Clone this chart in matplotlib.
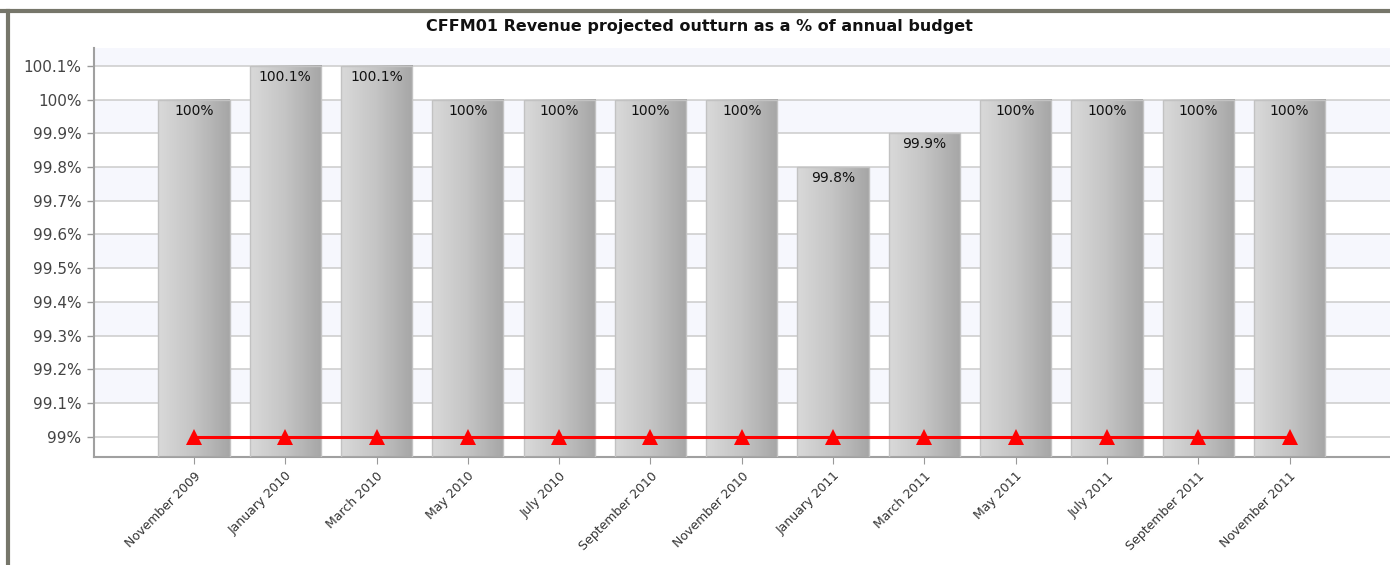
import numpy as np
import matplotlib.pyplot as plt
from matplotlib.colors import LinearSegmentedColormap
from matplotlib.ticker import FuncFormatter

months = ['November 2009', 'January 2010', 'March 2010', 'May 2010', 'July 2010',
          'September 2010', 'November 2010', 'January 2011', 'March 2011',
          'May 2011', 'July 2011', 'September 2011', 'November 2011']
outturn = [100.0, 100.1, 100.1, 100.0, 100.0, 100.0, 100.0, 99.8, 99.9,
           100.0, 100.0, 100.0, 100.0]
target = [99.0] * len(months)
bar_labels = ['100%', '100.1%', '100.1%', '100%', '100%', '100%', '100%',
              '99.8%', '99.9%', '100%', '100%', '100%', '100%']

ymin, ymax = 98.94, 100.153
xmin, xmax = -1.095, 13.1
width = 0.78

fig = plt.figure(figsize=(13.9, 5.65), dpi=100)
ax = fig.add_axes([94 / 1390, 1 - 457 / 565, 1 - 94 / 1390, (457 - 48) / 565])

# alternating bands behind the grid
ticks = np.round(np.arange(99.0, 100.11, 0.1), 1)
edges = list(ticks) + [ymax]
for k in range(len(edges) - 1):
    if k % 2 == 1:
        ax.axhspan(edges[k], edges[k + 1], color='#f6f7fd', zorder=0, lw=0)
for t in ticks:
    ax.axhline(t, color='#cfcfcf', lw=1.2, zorder=1)

# bars with a left-to-right grey gradient
grey = LinearSegmentedColormap.from_list('bar', ['#d9d9d9', '#c4c4c4', '#a6a6a6'])
grad = np.linspace(0, 1, 64).reshape(1, -1)
x = np.arange(len(months))
for xi, val in zip(x, outturn):
    ax.imshow(grad, cmap=grey, aspect='auto', zorder=2,
              extent=[xi - width / 2, xi + width / 2, ymin, val])
ax.bar(x, np.array(outturn) - ymin, bottom=ymin, width=width, fill=False,
       edgecolor='#c2c2c2', lw=1, zorder=3)

for xi, val, lab in zip(x, outturn, bar_labels):
    ax.text(xi, val - 0.012, lab, ha='center', va='top', fontsize=10,
            color='#111111', zorder=5)

# target line
ax.plot(x, target, color='#ff0000', lw=2.2, marker='^', markersize=12,
        markeredgewidth=0, zorder=6, clip_on=False)

ax.set_xlim(xmin, xmax)
ax.set_ylim(ymin, ymax)
ax.set_xticks(x)
ax.set_xticklabels(months, rotation=45, ha='right', rotation_mode='anchor',
                   fontsize=9, color='#333333')
ax.set_yticks(ticks)
ax.yaxis.set_major_formatter(FuncFormatter(lambda v, p: f'{v:g}%'))
ax.tick_params(axis='y', labelsize=11, colors='#444444', length=5, width=1,
               pad=4)
ax.tick_params(axis='x', length=5, color='#999999', pad=4)
ax.tick_params(axis='y', color='#999999')

for side in ['top', 'right']:
    ax.spines[side].set_visible(False)
for side in ['left', 'bottom']:
    ax.spines[side].set_color('#a0a0a0')
    ax.spines[side].set_linewidth(1.5)

fig.text(699 / 1390, 1 - 27 / 565, 'CFFM01 Revenue projected outturn as a % of annual budget',
         ha='center', va='center', fontsize=11.5, fontweight='bold', color='#111111')

# outer panel frame
fig.add_artist(plt.Line2D([0, 1], [1 - 11 / 565] * 2, color='#76766a', lw=3,
                          transform=fig.transFigure))
fig.add_artist(plt.Line2D([8 / 1390] * 2, [0, 1 - 11 / 565], color='#76766a', lw=3,
                          transform=fig.transFigure))

fig.savefig('out.png', dpi=100)
